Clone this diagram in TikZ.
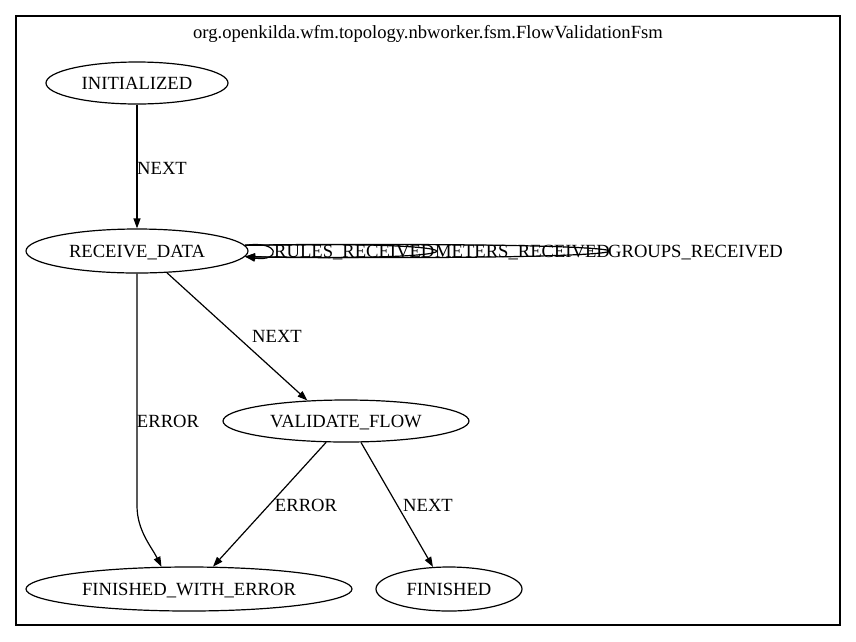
\documentclass[tikz,border=0pt]{standalone}
\usepackage{fontspec}
\setmainfont{Liberation Serif}
\usetikzlibrary{arrows.meta,shapes.geometric}
\begin{document}
\begin{tikzpicture}[x=1pt,y=-1pt,
  every node/.style={font=\fontsize{18.6}{20}\selectfont,text height=12.4pt,text depth=0pt},
  st/.style={draw,ellipse,line width=1.2pt,inner sep=0pt},
  edge/.style={draw,line width=1.2pt,-{Triangle[length=10pt,width=7pt]}},
  lbl/.style={inner sep=0pt}]
\useasboundingbox (0,0) rectangle (856,641);
\node[draw,line width=1.3pt,minimum width=824pt,minimum height=609pt,inner sep=0pt,text height=0pt] (cl) at (428,320.5) {};
\node[lbl] (title) at (428,32) {org.openkilda.wfm.topology.nbworker.fsm.FlowValidationFsm};
\node[st,minimum width=182pt,minimum height=42pt] (init) at (137,83) {INITIALIZED};
\node[st,minimum width=222pt,minimum height=44pt] (rd) at (137,251) {RECEIVE\_DATA};
\node[st,minimum width=246pt,minimum height=42pt] (vf) at (346,421) {VALIDATE\_FLOW};
\node[st,minimum width=326pt,minimum height=44pt] (fwe) at (189,589) {FINISHED\_WITH\_ERROR};
\node[st,minimum width=146pt,minimum height=44pt] (fin) at (449,589) {FINISHED};
% edges
\draw[edge] (init.south) -- (rd.north);
\node[lbl] (l1) at (162,168) {NEXT};
\draw[edge] (rd.-36) -- (vf.152.3);
\node[lbl] (l2) at (277,336) {NEXT};
\draw[edge] (rd.south) -- ++(0,232) .. controls +(0,25) and +(-10,-20) .. (fwe.141.8);
\node[lbl] (l3) at (168,421) {ERROR};
\draw[edge] (vf.-133.7) -- (fwe.43.7);
\node[lbl] (l4) at (306,505) {ERROR};
\draw[edge] (vf.-55.7) -- (fin.126);
\node[lbl] (l5) at (428,505) {NEXT};
% self loops
\draw[edge] (rd.3) .. controls (281,240) and (281,262) .. (rd.-3);
\draw[edge] (rd.3) .. controls (499,240) and (499,262) .. (rd.-3);
\draw[edge] (rd.3) .. controls (729,240) and (729,262) .. (rd.-3);
\node[lbl,anchor=west] (s1) at (274,251) {RULES\_RECEIVED};
\node[lbl,anchor=west] (s2) at (435,251) {METERS\_RECEIVED};
\node[lbl,anchor=west] (s3) at (608,251) {GROUPS\_RECEIVED};
\end{tikzpicture}
\end{document}
